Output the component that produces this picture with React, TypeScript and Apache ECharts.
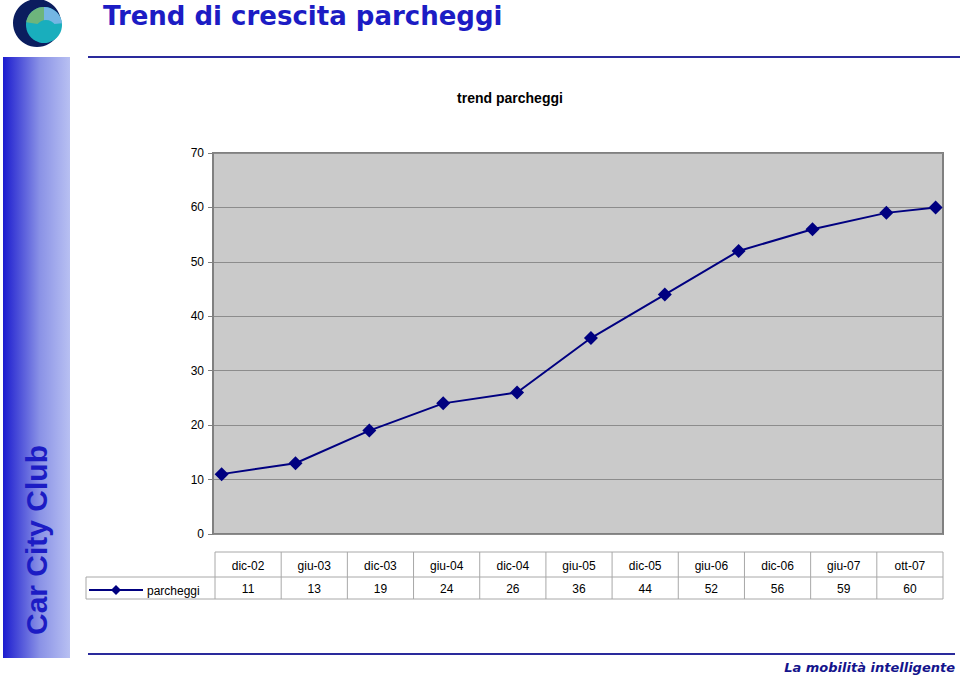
import React, { useEffect, useRef } from "react";
import * as echarts from "echarts";

const categories = ["dic-02", "giu-03", "dic-03", "giu-04", "dic-04", "giu-05", "dic-05", "giu-06", "dic-06", "giu-07", "ott-07"];
const monthOffsets = [0, 6, 12, 18, 24, 30, 36, 42, 48, 54, 58];
const parcheggi = [11, 13, 19, 24, 26, 36, 44, 52, 56, 59, 60];
const seriesName = "parcheggi";
const pageTitle = "Trend di crescita parcheggi";
const chartTitle = "trend parcheggi";
const sideText = "Car City Club";
const footerText = "La mobilità intelligente";

const GRID = { left: 213, top: 153, width: 730, height: 381 };
const TABLE = { x0: 215, x1: 943, legendX: 86, yTop: 552, yMid: 577, yBot: 599 };

export default function App() {
  const ref = useRef<HTMLDivElement>(null);
  useEffect(() => {
    if (!ref.current) return;
    const chart = echarts.init(ref.current, null, { renderer: "svg" });
    const n = categories.length;
    const colW = (TABLE.x1 - TABLE.x0) / n;
    const border = "#a8a8a8";
    const tableEls: any[] = [];
    tableEls.push({ type: "line", shape: { x1: TABLE.x0, y1: TABLE.yTop, x2: TABLE.x1, y2: TABLE.yTop }, style: { stroke: border, lineWidth: 1 } });
    tableEls.push({ type: "line", shape: { x1: TABLE.legendX, y1: TABLE.yMid, x2: TABLE.x1, y2: TABLE.yMid }, style: { stroke: border, lineWidth: 1 } });
    tableEls.push({ type: "line", shape: { x1: TABLE.legendX, y1: TABLE.yBot, x2: TABLE.x1, y2: TABLE.yBot }, style: { stroke: border, lineWidth: 1 } });
    tableEls.push({ type: "line", shape: { x1: TABLE.legendX, y1: TABLE.yMid, x2: TABLE.legendX, y2: TABLE.yBot }, style: { stroke: border, lineWidth: 1 } });
    for (let i = 0; i <= n; i++) {
      const x = TABLE.x0 + i * colW;
      tableEls.push({ type: "line", shape: { x1: x, y1: TABLE.yTop, x2: x, y2: TABLE.yBot }, style: { stroke: border, lineWidth: 1 } });
    }
    categories.forEach((c, i) => {
      const cx = TABLE.x0 + (i + 0.5) * colW;
      tableEls.push({ type: "text", x: cx, y: (TABLE.yTop + TABLE.yMid) / 2 + 1, style: { text: c, align: "center", verticalAlign: "middle", fontFamily: "Liberation Sans, Arial", fontSize: 12, fill: "#000" } });
      tableEls.push({ type: "text", x: cx, y: (TABLE.yMid + TABLE.yBot) / 2 + 1, style: { text: String(parcheggi[i]), align: "center", verticalAlign: "middle", fontFamily: "Liberation Sans, Arial", fontSize: 12, fill: "#000" } });
    });
    const ky = (TABLE.yMid + TABLE.yBot) / 2 + 2;
    tableEls.push({ type: "line", shape: { x1: 89, y1: ky, x2: 143, y2: ky }, style: { stroke: "#000080", lineWidth: 2 } });
    tableEls.push({ type: "polygon", shape: { points: [[116, ky - 5], [121, ky], [116, ky + 5], [111, ky]] }, style: { fill: "#000080" } });
    tableEls.push({ type: "text", x: 147, y: ky + 1, style: { text: seriesName, align: "left", verticalAlign: "middle", fontFamily: "Liberation Sans, Arial", fontSize: 12, fill: "#000" } });

    const option: any = {
      animation: false,
      backgroundColor: "#ffffff",
      grid: { left: GRID.left, top: GRID.top, width: GRID.width, height: GRID.height, show: true, backgroundColor: "#cacaca", borderColor: "#808080", borderWidth: 2 },
      xAxis: {
        type: "value", min: -0.7, max: 58.6,
        axisLine: { show: false }, axisTick: { show: false }, axisLabel: { show: false }, splitLine: { show: false },
      },
      yAxis: {
        type: "value", min: 0, max: 70, interval: 10,
        axisLine: { show: true, onZero: false, lineStyle: { color: "#808080", width: 2 } },
        axisTick: { show: true, length: 5, lineStyle: { color: "#808080" } },
        axisLabel: { color: "#000", fontSize: 12, fontFamily: "Liberation Sans, Arial", margin: 9 },
        splitLine: { show: true, lineStyle: { color: "#8c8c8c", width: 1 } },
      },
      series: [{
        name: seriesName, type: "line",
        data: monthOffsets.map((m, i) => [m, parcheggi[i]]),
        symbol: "diamond", symbolSize: 14,
        lineStyle: { color: "#000080", width: 2 },
        itemStyle: { color: "#000080" },
      }],
      graphic: [
        { type: "circle", shape: { cx: 37, cy: 23, r: 24 }, style: { fill: "#0b1d5e" } },
        { type: "circle", shape: { cx: 44, cy: 25, r: 18 }, style: { fill: "#19aebd" } },
        { type: "sector", shape: { cx: 44, cy: 25, r: 18, r0: 0, startAngle: Math.PI * 1.05, endAngle: Math.PI * 1.5 }, style: { fill: "#6db57c" } },
        { type: "sector", shape: { cx: 44, cy: 25, r: 18, r0: 0, startAngle: Math.PI * 1.5, endAngle: Math.PI * 1.97 }, style: { fill: "#74b6e4" } },
        { type: "circle", shape: { cx: 46, cy: 31, r: 11 }, style: { fill: "#19aebd" } },
        { type: "text", x: 103, y: 16, style: { text: pageTitle, align: "left", verticalAlign: "middle", fontFamily: "DejaVu Sans, Verdana", fontWeight: "bold", fontSize: 26, fill: "#1c1cc4" } },
        { type: "line", shape: { x1: 88, y1: 57, x2: 960, y2: 57 }, style: { stroke: "#2a2a9c", lineWidth: 2 } },
        { type: "rect", shape: { x: 3, y: 57, width: 67, height: 601 }, style: { fill: new echarts.graphic.LinearGradient(0, 0, 1, 0, [{ offset: 0, color: "#1c1ccf" }, { offset: 0.55, color: "#8a92e6" }, { offset: 1, color: "#b8c0f2" }]) } },
        { type: "text", x: 36, y: 540, rotation: Math.PI / 2, style: { text: sideText, align: "center", verticalAlign: "middle", fontFamily: "Liberation Sans, Arial", fontWeight: "bold", fontSize: 30, fill: "#1c1cc4" } },
        { type: "line", shape: { x1: 88, y1: 654, x2: 955, y2: 654 }, style: { stroke: "#2a2a9c", lineWidth: 2 } },
        { type: "text", x: 955, y: 667, style: { text: footerText, align: "right", verticalAlign: "middle", fontFamily: "DejaVu Sans, Verdana", fontWeight: "bold", fontStyle: "italic", fontSize: 13, fill: "#14148c" } },
        { type: "text", x: 510, y: 98, style: { text: chartTitle, align: "center", verticalAlign: "middle", fontFamily: "Liberation Sans, Arial", fontWeight: "bold", fontSize: 14, fill: "#000" } },
        ...tableEls,
      ],
    };
    chart.setOption(option);
    return () => chart.dispose();
  }, []);
  return <div ref={ref} style={{ position: "fixed", left: 0, top: 0, width: 960, height: 678 }} />;
}
